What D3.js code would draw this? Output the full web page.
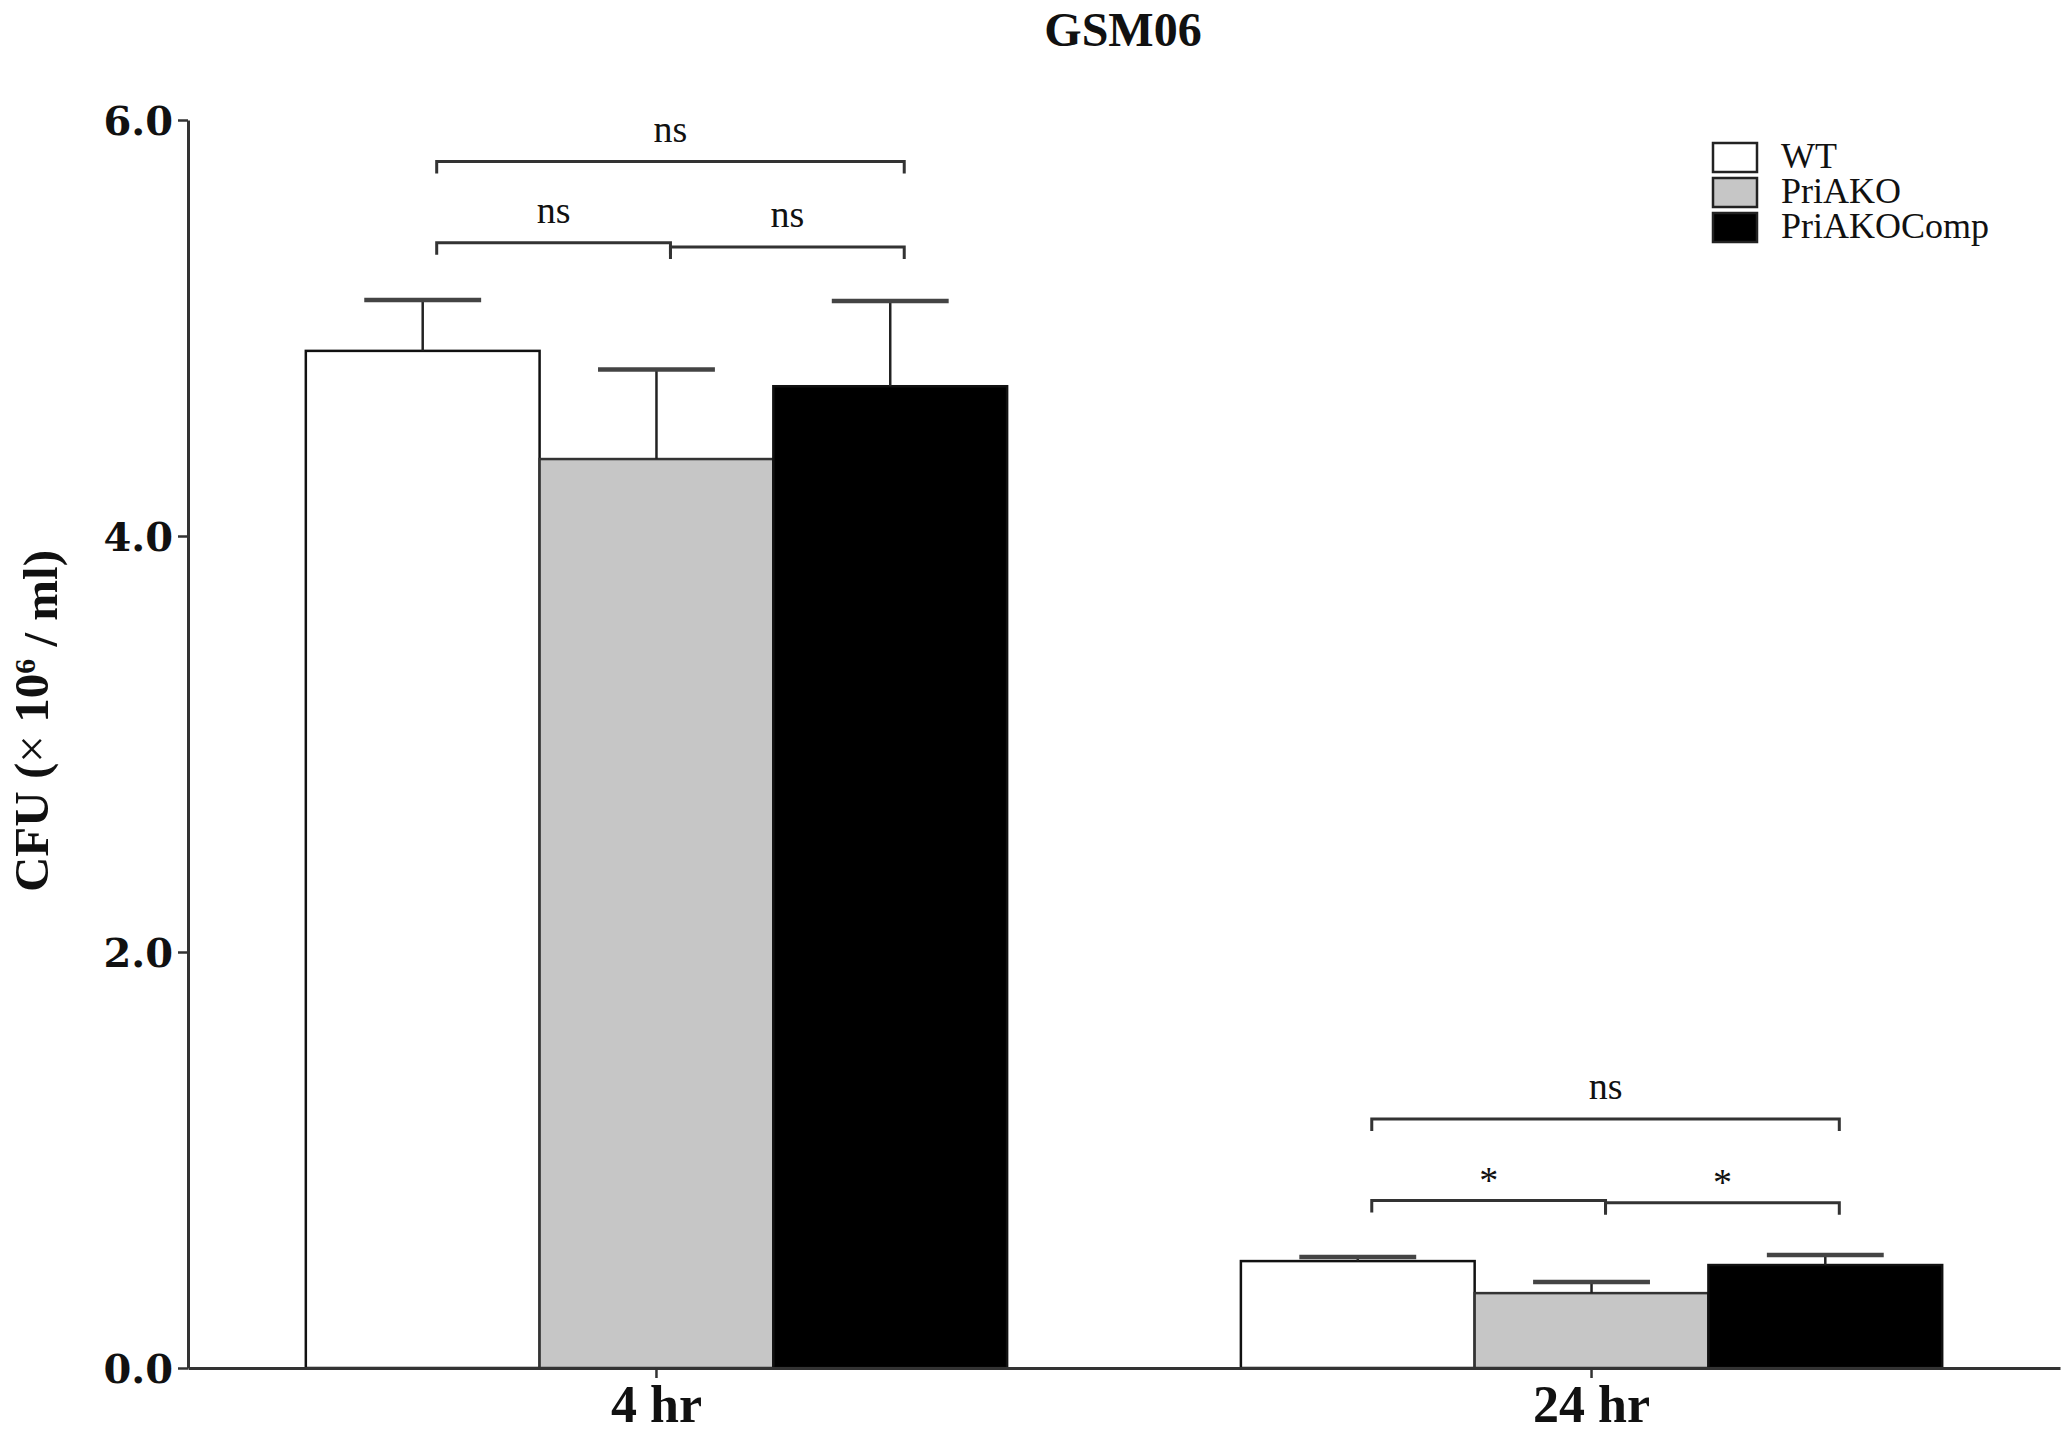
<!DOCTYPE html>
<html>
<head>
<meta charset="utf-8">
<script src="https://cdn.jsdelivr.net/npm/d3@7"></script>
<style>
  body { margin: 0; background: #fff; }
  text { font-family: "Liberation Serif", "Times New Roman", serif; fill: #111; }
</style>
</head>
<body>
<svg id="chart" width="2070" height="1435"></svg>
<script>

  var groups = ["4 hr", "24 hr"];
  var series = ["WT", "PriAKO", "PriAKOComp"];
  var fills = ["#ffffff", "#c6c6c6", "#000000"];

  // mean and SEM per series, one entry per group
  var means = {
    "WT":         [4.89, 0.514],
    "PriAKO":     [4.37, 0.360],
    "PriAKOComp": [4.72, 0.495]
  };
  var errs = {
    "WT":         [0.245, 0.020],
    "PriAKO":     [0.430, 0.053],
    "PriAKOComp": [0.410, 0.048]
  };

  var yTicks = [0, 2, 4, 6];

  // significance brackets: group, first bar, last bar, level, label
  var brackets = [
    ["4 hr", 0, 2, 5.80, "ns"],
    ["4 hr", 0, 1, 5.41, "ns"],
    ["4 hr", 1, 2, 5.39, "ns"],
    ["24 hr", 0, 2, 1.197, "ns"],
    ["24 hr", 0, 1, 0.805, "*"],
    ["24 hr", 1, 2, 0.795, "*"]
  ];

  var svg = d3.select('#chart');

  var x = d3.scaleBand()
    .domain(groups)
    .range([188, 2060])
    .paddingInner(0.25)
    .paddingOuter(0.126);

  var xs = d3.scaleBand()
    .domain(series)
    .range([0, x.bandwidth()]);

  var y = d3.scaleLinear()
    .domain([0, 6])
    .range([1368, 120]);

  // bars
  var rows = [];
  groups.forEach(function (g, gi) {
    series.forEach(function (s, si) {
      rows.push({ g: g, s: s, i: si, v: means[s][gi], e: errs[s][gi] });
    });
  });

  var bar = svg.append('g').selectAll('g').data(rows).enter().append('g');

  bar.append('rect')
    .attr('x', function (d) { return x(d.g) + xs(d.s); })
    .attr('y', function (d) { return y(d.v); })
    .attr('width', xs.bandwidth())
    .attr('height', function (d) { return y(0) - y(d.v); })
    .attr('fill', function (d) { return fills[d.i]; })
    .attr('stroke', function (d) { return d.i === 1 ? '#333' : '#111'; })
    .attr('stroke-width', 2.5);

  // error bars (upper only)
  bar.append('line')
    .attr('x1', function (d) { return x(d.g) + xs(d.s) + xs.bandwidth() / 2; })
    .attr('x2', function (d) { return x(d.g) + xs(d.s) + xs.bandwidth() / 2; })
    .attr('y1', function (d) { return y(d.v); })
    .attr('y2', function (d) { return y(d.v + d.e); })
    .attr('stroke', '#222')
    .attr('stroke-width', 2.5);

  bar.append('line')
    .attr('x1', function (d) { return x(d.g) + xs(d.s) + xs.bandwidth() / 4; })
    .attr('x2', function (d) { return x(d.g) + xs(d.s) + xs.bandwidth() * 3 / 4; })
    .attr('y1', function (d) { return y(d.v + d.e); })
    .attr('y2', function (d) { return y(d.v + d.e); })
    .attr('stroke', '#444')
    .attr('stroke-width', 4.5);

  // axes
  var yAxis = svg.append('g')
    .attr('transform', 'translate(188,0)')
    .call(d3.axisLeft(y).tickValues(yTicks).tickFormat(d3.format('.1f'))
      .tickSize(10).tickSizeOuter(0).tickPadding(5));

  var xAxis = svg.append('g')
    .attr('transform', 'translate(0,' + y(0) + ')')
    .call(d3.axisBottom(x).tickSize(10).tickSizeOuter(0).tickPadding(7));

  [yAxis, xAxis].forEach(function (a) {
    a.select('.domain').attr('stroke', '#333').attr('stroke-width', 3);
    a.selectAll('.tick line').attr('stroke', '#333').attr('stroke-width', 2.5);
    a.selectAll('.tick text')
      .style('font-weight', 'bold')
      .attr('fill', '#111');
  });
  yAxis.selectAll('.tick text')
    .style('font-family', '"DejaVu Serif", serif')
    .style('font-size', '40px')
    .attr('dy', '0.36em');
  xAxis.selectAll('.tick text')
    .style('font-family', '"Liberation Serif", "Times New Roman", serif')
    .style('font-size', '52px');

  // brackets
  var off = 14;
  function bx(g, i) { return x(g) + xs(series[i]) + xs.bandwidth() / 2 + off; }

  var br = svg.append('g').selectAll('g').data(brackets).enter().append('g');

  br.append('path')
    .attr('d', function (d) {
      var x1 = bx(d[0], d[1]), x2 = bx(d[0], d[2]), yy = y(d[3]);
      return 'M' + x1 + ',' + (yy + 12) + 'V' + yy + 'H' + x2 + 'V' + (yy + 12);
    })
    .attr('fill', 'none')
    .attr('stroke', '#333')
    .attr('stroke-width', 3);

  br.append('text')
    .attr('x', function (d) { return (bx(d[0], d[1]) + bx(d[0], d[2])) / 2; })
    .attr('y', function (d) { return y(d[3]) - (d[4] === '*' ? 8 : 20); })
    .attr('text-anchor', 'middle')
    .style('font-size', '38px')
    .text(function (d) { return d[4]; });

  // title
  svg.append('text')
    .attr('x', 1123)
    .attr('y', 46)
    .attr('text-anchor', 'middle')
    .style('font-size', '48px')
    .style('font-weight', 'bold')
    .text('GSM06');

  // y axis label
  var yl = svg.append('text')
    .attr('transform', 'translate(48,721) rotate(-90)')
    .attr('text-anchor', 'middle')
    .style('font-size', '49px')
    .style('font-weight', 'bold');
  yl.append('tspan').text('CFU (');
  yl.append('tspan').style('font-weight', 'normal').text('\u00D7');
  yl.append('tspan').text(' 10');
  yl.append('tspan').attr('dy', '-0.45em').style('font-size', '30px').text('6');
  yl.append('tspan').attr('dy', '0.45em').text(' / ml)');

  // legend
  var lg = svg.append('g').selectAll('g').data(series).enter().append('g')
    .attr('transform', function (d, i) { return 'translate(1713,' + (143 + i * 35) + ')'; });

  lg.append('rect')
    .attr('width', 44)
    .attr('height', 29)
    .attr('fill', function (d, i) { return fills[i]; })
    .attr('stroke', '#222')
    .attr('stroke-width', 2.5);

  lg.append('text')
    .attr('x', 68)
    .attr('y', 25)
    .style('font-size', '36px')
    .text(function (d) { return d; });

</script>
</body>
</html>
